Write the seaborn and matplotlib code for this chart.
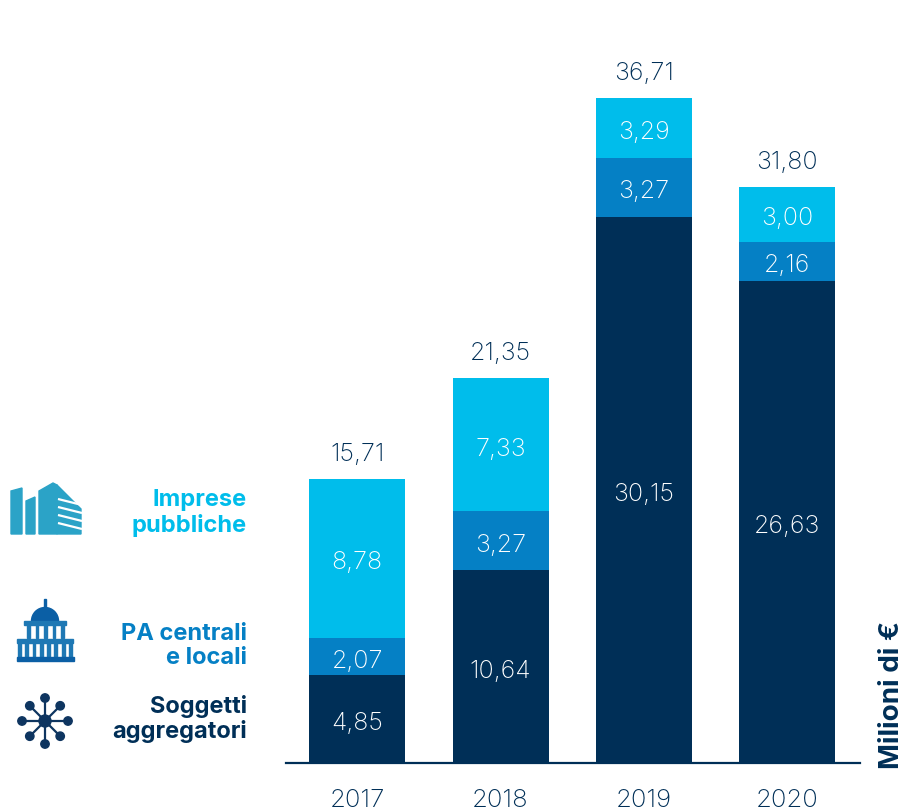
import numpy as np
import pandas as pd
import matplotlib.pyplot as plt
from matplotlib.patches import Polygon, Rectangle, Circle, Wedge
import seaborn as sns

# Values (milioni di euro)
years = ['2017', '2018', '2019', '2020']
soggetti = [4.85, 10.64, 30.15, 26.63]
pa = [2.07, 3.27, 3.27, 2.16]
imprese = [8.78, 7.33, 3.29, 3.00]
totals = [15.71, 21.35, 36.71, 31.80]

series_names = ['Soggetti\naggregatori', 'PA centrali\ne locali', 'Imprese\npubbliche']
series_values = [soggetti, pa, imprese]
colors = ['#002F57', '#0580C5', '#00BDEB']

DARK = '#002F57'
FONT = 'Inter'

sns.set_theme(style="white")
plt.rcParams['font.family'] = [FONT, 'DejaVu Sans']


def it_fmt(v):
    return f"{v:.2f}".replace('.', ',')


def draw_building(ov):
    col = '#2BA3C7'
    ov.add_patch(Polygon([(11, 492), (22, 489), (22, 535), (11, 535)], color=col))
    ov.add_patch(Polygon([(26, 502), (35, 498), (35, 535), (26, 535)], color=col))
    ov.add_patch(Polygon([(39, 492), (53, 484), (57, 486), (57, 535), (39, 535)], color=col))
    ov.add_patch(Polygon([(57, 486), (81, 510), (81, 535), (57, 535)], color=col))
    for y0 in [500, 508, 516, 524]:
        ov.plot([58, 82], [y0, y0 + 6], color='white', lw=1.6, solid_capstyle='butt')


def draw_dome(ov):
    col = '#1E78B4'
    navy = '#0B5FA5'
    ov.add_patch(Rectangle((44.4, 600), 1.2, 8, color=navy))
    ov.add_patch(Wedge((45, 622), 13.5, 180, 360, color=navy, transform=ov.transData))
    ov.add_patch(Rectangle((24, 622), 42, 4, color=col))
    for x0 in np.linspace(27, 61, 5):
        ov.add_patch(Rectangle((x0, 626), 2.8, 13, color=col))
    ov.add_patch(Rectangle((17, 640), 56, 4, color=col))
    for x0 in np.linspace(18, 69, 8):
        ov.add_patch(Rectangle((x0, 644), 2.8, 14, color=col))
    ov.add_patch(Rectangle((17, 658), 57, 4, color=navy))


def draw_network(ov):
    col = '#0E3560'
    cx, cy = 45, 722
    for ang in np.arange(0, 360, 45):
        a = np.deg2rad(ang)
        r = 23 if ang % 90 == 0 else 21.5
        ov.plot([cx, cx + r * np.cos(a)], [cy, cy + r * np.sin(a)], color=col, lw=1.6)
        ov.add_patch(Circle((cx + r * np.cos(a), cy + r * np.sin(a)), 4.2, color=col))
    ov.add_patch(Circle((cx, cy), 6, color=col))


def make_chart():
    df = pd.DataFrame({'year': years})
    fig = plt.figure(figsize=(9.06, 8.12), dpi=100)
    ax = fig.add_axes([286 / 906, (812 - 764) / 812, (860 - 286) / 906, 764 / 812])

    bottom = np.zeros(len(years))
    for vals, col in zip(series_values, colors):
        sns.barplot(data=df.assign(v=vals), x='year', y='v', color=col, width=0.67,
                    bottom=bottom, saturation=1, ax=ax, linewidth=0)
        for i, v in enumerate(vals):
            ax.annotate(it_fmt(v), (i, bottom[i] + v / 2), xytext=(0, -0.8), textcoords='offset points',
                        ha='center', va='center_baseline', color='white', fontsize=18, fontweight='light')
        bottom = bottom + np.array(vals)

    for i, t in enumerate(totals):
        ax.annotate(it_fmt(t), (i, bottom[i]), xytext=(0, 10), textcoords='offset points',
                    ha='center', va='bottom', color=DARK, fontsize=18, fontweight='light')

    ax.set_xlim(-0.497, 3.508)
    ax.set_ylim(0, 42.18)
    ax.set_xlabel('')
    ax.set_ylabel('')
    ax.set_yticks([])
    ax.tick_params(axis='x', length=0, pad=18, labelsize=18.5, labelcolor=DARK)
    for lab in ax.get_xticklabels():
        lab.set_fontweight('light')
    sns.despine(ax=ax, left=True)
    ax.spines['bottom'].set_color(DARK)
    ax.spines['bottom'].set_linewidth(1.6)
    ax.patch.set_alpha(0)

    # overlay in pixel units for the side legend and the icons
    ov = fig.add_axes([0, 0, 1, 1])
    ov.set_xlim(0, 906)
    ov.set_ylim(812, 0)
    ov.axis('off')
    ov.patch.set_alpha(0)
    for name, col, yc in zip(series_names, colors, [719, 646, 513]):
        ov.text(247, yc, name, ha='right', va='center', multialignment='right',
                color=col, fontsize=17, fontweight='bold', linespacing=1.14)
    ov.text(892, 769, 'Milioni di €', rotation=90, ha='center', va='bottom',
            color=DARK, fontsize=20, fontweight='bold')
    draw_building(ov)
    draw_dome(ov)
    draw_network(ov)

    fig.savefig('out.png', dpi=100)
    plt.close(fig)


if __name__ == "__main__":
    make_chart()
